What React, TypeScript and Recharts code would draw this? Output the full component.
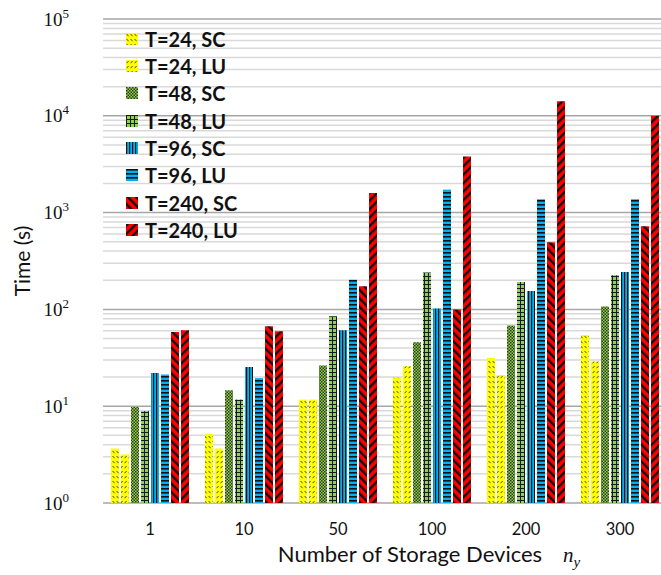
import { BarChart, Bar, XAxis, YAxis, CartesianGrid } from 'recharts';

const categories = ['1', '10', '50', '100', '200', '300'];
const t24SC = [3.65, 5.2, 11.7, 19.7, 31.5, 54.4];
const t24LU = [3.18, 3.65, 11.7, 25.8, 21, 29];
const t48SC = [9.8, 14.6, 26.4, 45.7, 68, 107];
const t48LU = [8.9, 11.7, 85, 240, 192, 225];
const t96SC = [22, 25.4, 60.8, 102, 155, 243];
const t96LU = [21.2, 19.5, 203, 1727, 1371, 1371];
const t240SC = [58.4, 66.9, 173, 99.5, 493, 722];
const t240LU = [60.8, 59.4, 1593, 3800, 14100, 10000];

const majorTicks = [1, 10, 100, 1000, 10000, 100000];
const minorSteps = [1, 2, 3, 4, 5, 6, 7, 8, 9];
const yTicks = majorTicks.flatMap((m, i) => (i < majorTicks.length - 1 ? minorSteps.map(s => s * m) : [m]));

const series = [
  { key: 't24SC', name: 'T=24, SC', values: t24SC, pattern: 'p-y-sc' },
  { key: 't24LU', name: 'T=24, LU', values: t24LU, pattern: 'p-y-lu' },
  { key: 't48SC', name: 'T=48, SC', values: t48SC, pattern: 'p-g-sc' },
  { key: 't48LU', name: 'T=48, LU', values: t48LU, pattern: 'p-g-lu' },
  { key: 't96SC', name: 'T=96, SC', values: t96SC, pattern: 'p-b-sc' },
  { key: 't96LU', name: 'T=96, LU', values: t96LU, pattern: 'p-b-lu' },
  { key: 't240SC', name: 'T=240, SC', values: t240SC, pattern: 'p-r-sc' },
  { key: 't240LU', name: 'T=240, LU', values: t240LU, pattern: 'p-r-lu' },
];

const chartData = categories.map((n, i) => {
  const row: Record<string, string | number> = { n };
  series.forEach(s => { row[s.key] = s.values[i]; });
  return row;
});

const textColor = '#111111';

function isMajor(v: number) {
  const e = Math.log10(v);
  return Math.abs(e - Math.round(e)) < 1e-9;
}

function Patterns() {
  return (
    <svg width={0} height={0} style={{ position: 'absolute' }}>
      <defs>
        <pattern id="p-y-sc" width={4} height={5} patternUnits="userSpaceOnUse">
          <rect width={4} height={5} fill="#ffff00" />
          <line x1={0.6} y1={1} x2={2.6} y2={3.2} stroke="#4a4a10" strokeWidth={1} />
        </pattern>
        <pattern id="p-y-lu" width={4} height={5} patternUnits="userSpaceOnUse">
          <rect width={4} height={5} fill="#ffff00" />
          <line x1={2.6} y1={1} x2={0.6} y2={3.2} stroke="#4a4a10" strokeWidth={1} />
        </pattern>
        <pattern id="p-g-sc" width={3} height={3} patternUnits="userSpaceOnUse">
          <rect width={3} height={3} fill="#92d050" />
          <rect width={1.5} height={1.5} fill="#2b3a18" />
          <rect x={1.5} y={1.5} width={1.5} height={1.5} fill="#2b3a18" />
        </pattern>
        <pattern id="p-g-lu" width={4} height={4} patternUnits="userSpaceOnUse">
          <rect width={4} height={4} fill="#92d050" />
          <rect width={1} height={4} fill="#1a1a1a" />
          <rect width={4} height={1} fill="#1a1a1a" />
        </pattern>
        <pattern id="p-b-sc" width={3} height={3} patternUnits="userSpaceOnUse">
          <rect width={3} height={3} fill="#00b0f0" />
          <rect width={1.2} height={3} fill="#111111" />
        </pattern>
        <pattern id="p-b-lu" width={4} height={4} patternUnits="userSpaceOnUse">
          <rect width={4} height={4} fill="#00b0f0" />
          <rect width={4} height={1.6} fill="#111111" />
        </pattern>
        <pattern id="p-r-sc" width={6} height={6} patternUnits="userSpaceOnUse" patternTransform="rotate(-45)">
          <rect width={6} height={6} fill="#ff0000" />
          <rect width={2.4} height={6} fill="#111111" />
        </pattern>
        <pattern id="p-r-lu" width={6} height={6} patternUnits="userSpaceOnUse" patternTransform="rotate(45)">
          <rect width={6} height={6} fill="#ff0000" />
          <rect width={2.4} height={6} fill="#111111" />
        </pattern>
      </defs>
    </svg>
  );
}

// grid line: darker at each power of ten
function GridLine(props: any) {
  const { x1, x2, y1, y2, index } = props;
  const major = isMajor(yTicks[index] ?? 2);
  return (
    <line x1={x1} x2={x2} y1={y1} y2={y2} stroke={major ? '#a6a6a6' : '#d9d9d9'} strokeWidth={1.5} />
  );
}

function YTick(props: any) {
  const { y, payload } = props;
  if (!isMajor(payload.value)) return null;
  return (
    <text x={69} y={y + 6.5} textAnchor="end" fontFamily="Liberation Serif" fontSize={19} fill={textColor}>
      10<tspan fontSize={13} dy={-8}>{Math.round(Math.log10(payload.value))}</tspan>
    </text>
  );
}

function XTick(props: any) {
  const { x, payload } = props;
  return (
    <text x={x} y={535} textAnchor="middle" fontFamily="Lato" fontSize={16.5} fill={textColor}>
      {payload.value}
    </text>
  );
}

function XTitle() {
  return (
    <g>
      <text x={410} y={562} textAnchor="middle" fontFamily="Lato" fontSize={22} fill={textColor}>
        Number of Storage Devices
      </text>
      <text x={563} y={562} fontFamily="Liberation Serif" fontStyle="italic" fontSize={21} fill={textColor}>
        n<tspan fontSize={15} dy={5}>y</tspan>
      </text>
    </g>
  );
}

function YTitle() {
  return (
    <text x={21} y={261} transform="rotate(-90 21 261)" textAnchor="middle" dominantBaseline="central"
      fontFamily="Lato" fontSize={21} fill={textColor}>
      Time (s)
    </text>
  );
}

export default function App() {
  return (
    <div style={{ position: 'fixed', left: 0, top: 0, width: 661, height: 575, overflow: 'hidden', background: '#ffffff' }}>
      <Patterns />
      <BarChart width={680} height={575} data={chartData} margin={{ top: 19, right: 13, bottom: 0, left: 0 }}
        barCategoryGap={8} barGap={2}>
        <CartesianGrid vertical={false} horizontal={(p: any) => <GridLine {...p} />} />
        <XAxis dataKey="n" height={72} tickLine={false} axisLine={false} tick={<XTick />} interval={0}
          label={{ content: () => <XTitle /> }} />
        <YAxis scale="log" domain={[1, 100000]} ticks={yTicks} interval={0} width={103}
          tickLine={false} axisLine={false} tick={<YTick />} allowDataOverflow
          label={{ content: () => <YTitle /> }} />
        {series.map(s => (
          <Bar key={s.key} dataKey={s.key} name={s.name} fill={`url(#${s.pattern})`} isAnimationActive={false} />
        ))}
      </BarChart>
      <div style={{ position: 'absolute', left: 126, top: 25 }}>
        {series.map(s => (
          <div key={s.key} style={{ display: 'flex', alignItems: 'center', height: 27.35 }}>
            <svg width={12} height={12} style={{ display: 'block' }}>
              <rect width={12} height={12} fill={`url(#${s.pattern})`} />
            </svg>
            <span style={{ marginLeft: 7, fontFamily: 'Lato', fontWeight: 700, fontSize: 20, color: textColor, whiteSpace: 'nowrap' }}>
              {s.name}
            </span>
          </div>
        ))}
      </div>
    </div>
  );
}
